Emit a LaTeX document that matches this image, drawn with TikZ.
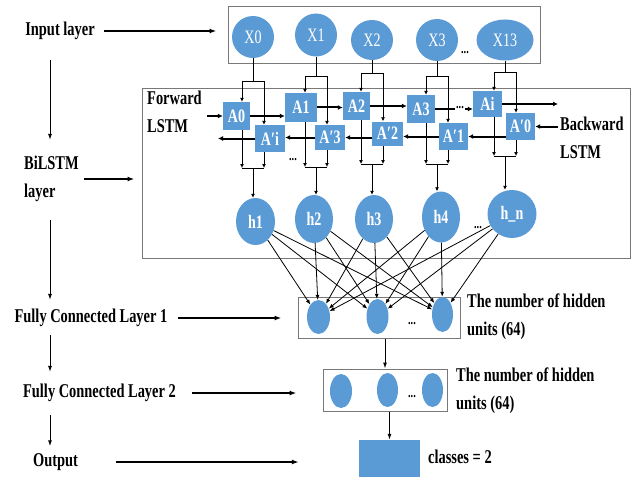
\documentclass[tikz,border=0pt]{standalone}
\usepackage{fontspec}
\newfontfamily\condserif[FakeStretch=0.74]{Liberation Serif}
\definecolor{nnblue}{RGB}{91,155,213}
\definecolor{nngray}{RGB}{120,120,120}
\usetikzlibrary{arrows.meta,positioning,shapes.geometric}

\begin{document}
\begin{tikzpicture}[x=1pt,y=-1pt,
  lbl/.style={font=\condserif\bfseries\fontsize{19.5}{28}\selectfont,inner sep=0pt,align=left},
  lyrbox/.style={draw=nngray,line width=1pt,inner sep=0pt},
  xnode/.style={ellipse,fill=nnblue,inner sep=0pt,text=white,font=\condserif\fontsize{19}{19}\selectfont},
  cell/.style={rectangle,fill=nnblue,inner sep=0pt,text=white,font=\condserif\bfseries\fontsize{19}{19}\selectfont},
  hnode/.style={ellipse,fill=nnblue,inner sep=0pt,text=white,font=\condserif\bfseries\fontsize{19}{19}\selectfont},
  unit/.style={ellipse,fill=nnblue,inner sep=0pt,minimum width=22pt,minimum height=34pt},
  dots/.style={font=\condserif\bfseries\fontsize{14}{14}\selectfont,inner sep=0pt},
  larrow/.style={-{Latex[length=7pt,width=5pt]},line width=1.4pt},
  varrow/.style={-{Latex[length=6pt,width=4pt]},line width=1pt},
  flow/.style={-{Latex[length=5pt,width=5pt]},line width=2pt},
  feed/.style={-{Latex[length=4pt,width=4pt]},line width=0.9pt},
  link/.style={-{Latex[length=5pt,width=4pt]},line width=0.8pt}]
  \useasboundingbox (0,0) rectangle (639,476);

  % layer names on the left
  \node[lbl] (inlbl) at (60,31) {Input layer};
  \node[lbl,anchor=west] (bilbl) at (24,179) {BiLSTM\\layer};
  \node[lbl] (fc1lbl) at (91,318) {Fully Connected Layer 1};
  \node[lbl] (fc2lbl) at (99.5,393) {Fully Connected Layer 2};
  \node[lbl] (outlbl) at (55.5,462) {Output};
  \coordinate (spine) at (50,0);
  \draw[varrow,shorten <=20pt,shorten >=16pt] (spine |- inlbl.south) -- (spine |- bilbl.north);
  \draw[varrow,shorten <=18pt,shorten >=9pt] (spine |- bilbl.south) -- (spine |- fc1lbl.north);
  \draw[varrow,shorten <=8pt,shorten >=12pt] (spine |- fc1lbl.south) -- (spine |- fc2lbl.north);
  \draw[varrow,shorten <=13pt,shorten >=7pt] (spine |- fc2lbl.south) -- (spine |- outlbl.north);

  % layer boxes
  \node[lyrbox,minimum width=312pt,minimum height=57pt] (inbox) at (384,35.5) {};
  \node[lyrbox,minimum width=488pt,minimum height=169pt] (bibox) at (386,173.5) {};
  \node[lyrbox,minimum width=162pt,minimum height=41pt] (fc1box) at (379,317.5) {};
  \node[lyrbox,minimum width=124pt,minimum height=42pt] (fc2box) at (385,390) {};
  \node[rectangle,fill=nnblue,minimum width=61pt,minimum height=40pt,inner sep=0pt] (outbox) at (389.5,460) {};
  \draw[larrow,shorten <=9pt,shorten >=11pt] (inlbl.east) -- (inlbl.east -| inbox.west);
  \draw[larrow,shorten <=5pt,shorten >=7pt] (bilbl.east) -- (bilbl.east -| bibox.west);
  \draw[larrow,shorten <=10pt,shorten >=16pt] (fc1lbl.east) -- (fc1lbl.east -| fc1box.west);
  \draw[larrow,shorten <=16pt,shorten >=26pt] (fc2lbl.east) -- (fc2lbl.east -| fc2box.west);
  \draw[larrow,shorten <=38pt,shorten >=60pt] (outlbl.east) -- (outlbl.east -| outbox.west);

  % inputs
  \node[xnode,minimum width=42pt,minimum height=42pt] (x0) at (253,37) {X0};
  \node[xnode,minimum width=42pt,minimum height=43pt] (x1) at (316,35) {X1};
  \node[xnode,minimum width=42pt,minimum height=40pt] (x2) at (372,40) {X2};
  \node[xnode,minimum width=42pt,minimum height=42pt] (x3) at (437,40) {X3};
  \node[xnode,minimum width=57pt,minimum height=41pt] (x13) at (505,40) {X13};
  \node[dots] (xdots) at (465,53) {...};

  % forward / backward cells
  \node[cell,minimum width=27pt,minimum height=28pt] (f0) at (236.5,116) {A0};
  \node[cell,minimum width=32pt,minimum height=29pt] (f1) at (301,107.5) {A1};
  \node[cell,minimum width=27pt,minimum height=28pt] (f2) at (356.5,106) {A2};
  \node[cell,minimum width=28pt,minimum height=28pt] (f3) at (421,109) {A3};
  \node[cell,minimum width=29pt,minimum height=26pt] (fi) at (487.5,104) {Ai};
  \node[cell,minimum width=30pt,minimum height=27pt] (bi) at (270,138.5) {A′i};
  \node[cell,minimum width=30pt,minimum height=25pt] (b3) at (330,137.5) {A′3};
  \node[cell,minimum width=31pt,minimum height=24pt] (b2) at (387.5,133.5) {A′2};
  \node[cell,minimum width=29pt,minimum height=27pt] (b1) at (453.5,136.5) {A′1};
  \node[cell,minimum width=29pt,minimum height=27pt] (b0) at (520.5,126.5) {A′0};
  \node[lbl,anchor=west] (fwdlbl) at (147,111.5) {Forward\\LSTM};
  \node[lbl,anchor=west] (bwdlbl) at (560,138) {Backward\\LSTM};
  \coordinate (fwdout) at (558,104);
  \coordinate (bwdout) at (218,138.5);
  \draw[flow,shorten <=5pt] (fwdlbl.east |- f0.west) -- (f0.west);
  \draw[flow] (f0.east) -- (f0.east -| f1.west);
  \draw[flow] (f1.east) -- (f1.east -| f2.west);
  \draw[flow] (f2.east) -- (f2.east -| f3.west);
  \draw[flow] (f3.east) -- (f3.east -| fi.west);
  \node[dots,fill=white,inner sep=1pt] (fdots) at (460,108) {...};
  \draw[flow] (fi.east) -- (fwdout);
  \draw[flow,shorten <=2pt] (bwdlbl.west |- b0.east) -- (b0.east);
  \draw[flow] (b1.east -| b0.west) -- (b1.east);
  \draw[flow] (b1.west) -- (b1.west -| b2.east);
  \draw[flow] (b3.east -| b2.west) -- (b3.east);
  \draw[flow] (b3.west) -- (b3.west -| bi.east);
  \draw[flow] (bi.west) -- (bwdout);
  \node[dots] (bdots) at (293,160) {...};

  % outputs of the BiLSTM
  \node[hnode,minimum width=39pt,minimum height=47pt] (h1) at (255.5,221.5) {h1};
  \node[hnode,minimum width=38pt,minimum height=48pt] (h2) at (314,219) {h2};
  \node[hnode,minimum width=38pt,minimum height=48pt] (h3) at (374,219) {h3};
  \node[hnode,minimum width=38pt,minimum height=51pt] (h4) at (441,217) {h4};
  \node[hnode,minimum width=49pt,minimum height=48pt] (hn) at (512,214) {h\_n};
  \node[dots] (hdots) at (478,228) {...};

  % input forks and output joins
  \foreach \xin/\fw/\bw/\hid/\ytop/\ybot in {x0/f0/bi/h1/81/168, x1/f1/b3/h2/76/167, x2/f2/b2/h3/73/164, x3/f3/b1/h4/76/164, x13/fi/b0/hn/72/156}{
    \path (\xin.south |- 0,\ytop) coordinate (fork) ++(-11,0) coordinate (forkL) ++(22,0) coordinate (forkR);
    \draw[line width=0.9pt] (\xin.south) -- (fork);
    \draw[line width=0.9pt] (forkL) -- (forkR);
    \draw[feed] (forkL) -- (forkL |- \fw.north);
    \draw[feed] (forkR) -- (forkR |- \bw.north);
    \path (\xin.south |- 0,\ybot) coordinate (join) ++(-11,0) coordinate (joinL) ++(22,0) coordinate (joinR);
    \draw[feed] (joinL |- \fw.south) -- (joinL);
    \draw[feed] (joinR |- \bw.south) -- (joinR);
    \draw[line width=0.9pt] (joinL) -- (joinR);
    \draw[feed] (join) -- (join |- \hid.north);
  }

  % fully connected layer 1
  \node[unit,minimum width=23pt] (n1) at (318.5,317) {};
  \node[unit,minimum height=35pt] (n2) at (377.5,316.5) {};
  \node[unit,minimum width=21pt,minimum height=35pt] (n3) at (442.5,314.5) {};
  \node[dots] (ndots) at (412,324) {...};
  \foreach \h in {h1,h2,h3,h4,hn}
    \foreach \n in {n1,n2,n3}
      \draw[link] (\h) -- (\n);
  \node[lbl,anchor=west] (fc1txt) at (467,316.5) {The number of hidden\\units (64)};

  % fully connected layer 2
  \node[unit] (m1) at (341,391) {};
  \node[unit,minimum width=21pt] (m2) at (387.5,390) {};
  \node[unit,minimum width=21pt] (m3) at (432.5,390) {};
  \node[dots] (mdots) at (412,397) {...};
  \node[lbl,anchor=west] (fc2txt) at (456,391) {The number of hidden\\units (64)};
  \draw[varrow] (fc2box.north |- fc1box.south) -- (fc2box.north);
  \draw[varrow] (outbox.north |- fc2box.south) -- (outbox.north);

  % output
  \node[lbl,anchor=west] (clstxt) at (428,457) {classes = 2};
\end{tikzpicture}
\end{document}
